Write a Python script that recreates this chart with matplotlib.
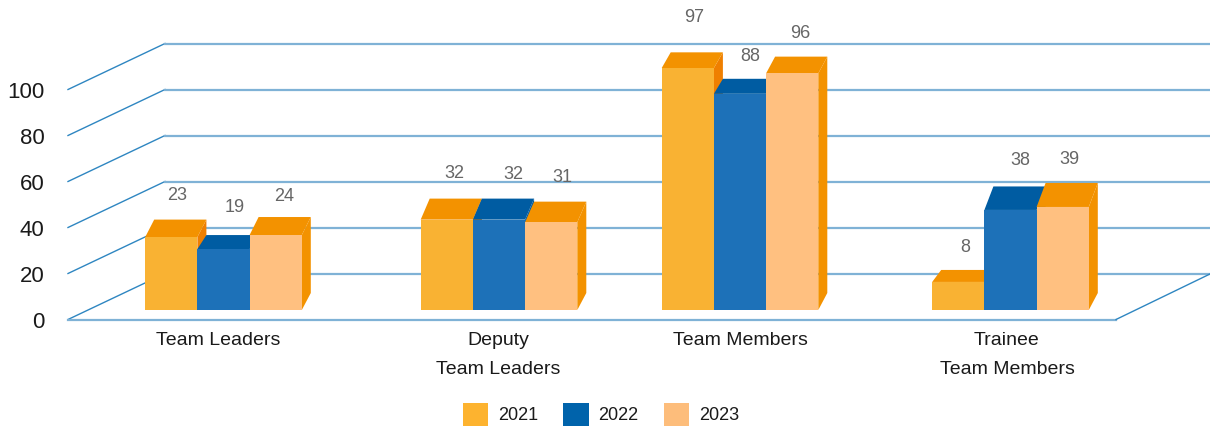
import matplotlib
matplotlib.use('Agg')
import matplotlib.pyplot as plt
from matplotlib.patches import Polygon, Patch

plt.rcParams['font.family'] = ['Liberation Sans', 'DejaVu Sans']

categories = ['Team Leaders', 'Deputy\nTeam Leaders', 'Team Members', 'Trainee\nTeam Members']
years = ['2021', '2022', '2023']
axis_ticks = [0, 20, 40, 60, 80, 100]

# numbers printed over the bars
labels_2021 = [23, 32, 97, 8]
labels_2022 = [19, 32, 88, 38]
labels_2023 = [24, 31, 96, 39]

# bar heights as drawn against the axis, they do not follow the printed numbers
heights_2021 = [31.7, 39.3, 105.2, 12.2]
heights_2022 = [26.5, 39.3, 94.0, 43.5]
heights_2023 = [32.6, 38.2, 102.9, 44.8]

# layout, x in pixels, depth in pixels
W, H = 1210, 428
PX = 2.3  # pixels per axis unit
left, base_py = 68, 319.5
floor = (base_py - 310) / PX
group_x = [223.5, 499, 740, 1010.5]
label_x = [218, 498, 740, 1007]
bar_w = 52.2
depth_x = 9
depth_y = [[17.5, 14, 18], [21, 21, 20.5], [15.7, 15, 16.7], [12, 23.5, 24]]
gap_y = [[24, 28, 21], [25, 24, 24], [35, 22, 23], [22, 26, 23]]
gap_x = [[6, 11, 8], [8, 14, 11], [6, 10, 8], [7, 10, 7]]

front = ['#F9B233', '#1D71B8', '#FFC080']
top = ['#F39200', '#005CA2', '#F39200']
side = ['#EF7F00', '#005CA2', '#F39200']
legend_col = ['#FDB32F', '#0063AB', '#FDBD7B']

fig = plt.figure(figsize=(W / 100, H / 100), dpi=100)
ax = fig.add_axes([left / W, (H - base_py) / H, (W - left) / W, base_py / H])
ax.set_xlim(left, W)
ax.set_ylim(0, base_py / PX)
for s in ax.spines.values():
    s.set_visible(False)

# walls and floor
back_dx, back_dy = 97, 46 / PX
for t in axis_ticks:
    ax.plot([left, left + back_dx], [t, t + back_dy], color='#2E86C1', lw=1.0,
            clip_on=False, zorder=1)
    ax.plot([left + back_dx, W + 1], [t + back_dy, t + back_dy], color='#7FB2D6', lw=1.6,
            clip_on=False, zorder=1)
ax.plot([left, 1116], [0, 0], color='#7FB2D6', lw=1.6, clip_on=False, zorder=1)
ax.plot([1116, W + 1], [0, back_dy], color='#2E86C1', lw=1.0, clip_on=False, zorder=1)

series = [heights_2021, heights_2022, heights_2023]
labels = [labels_2021, labels_2022, labels_2023]
z = 2
for g, gx in enumerate(group_x):
    for i in range(3):
        x0 = gx + (i - 1.5) * bar_w
        x1 = x0 + bar_w
        h = series[i][g]
        y1 = floor + h
        dy = depth_y[g][i] / PX
        # side goes first, then top, then the front
        ax.add_patch(Polygon([(x1, floor), (x1 + depth_x, floor + 17 / PX),
                              (x1 + depth_x, y1 + dy), (x1, y1)],
                             fc=side[i], ec='none', zorder=z))
        ax.add_patch(Polygon([(x0, y1), (x0 + depth_x, y1 + dy),
                              (x1 + depth_x, y1 + dy), (x1, y1)],
                             fc=top[i], ec='none', zorder=z))
        ax.bar(x0, h, bar_w, bottom=floor, align='edge', color=front[i], zorder=z)
        ax.text(x0 + bar_w / 2 + gap_x[g][i], y1 + dy + gap_y[g][i] / PX, str(labels[i][g]),
                ha='center', va='center', fontsize=13, color='#666666', zorder=20)
        z += 1

ax.set_yticks(axis_ticks)
ax.set_xticks(label_x)
ax.set_xticklabels(categories, fontsize=14, color='#1A1A1A', linespacing=1.95)
ax.tick_params(axis='y', length=0, pad=17, labelsize=16, labelcolor='#1A1A1A')
ax.tick_params(axis='x', length=0, pad=9)

handles = [Patch(fc=c, ec='none') for c in legend_col]
fig.legend(handles, years, ncol=3, frameon=False, fontsize=13, labelcolor='#1A1A1A',
           loc='center', bbox_to_anchor=(601 / W, (H - 414.5) / H), borderpad=0,
           handlelength=1.39, handleheight=1.65, handletextpad=0.55, columnspacing=1.4)

fig.savefig('out.png', dpi=100)
